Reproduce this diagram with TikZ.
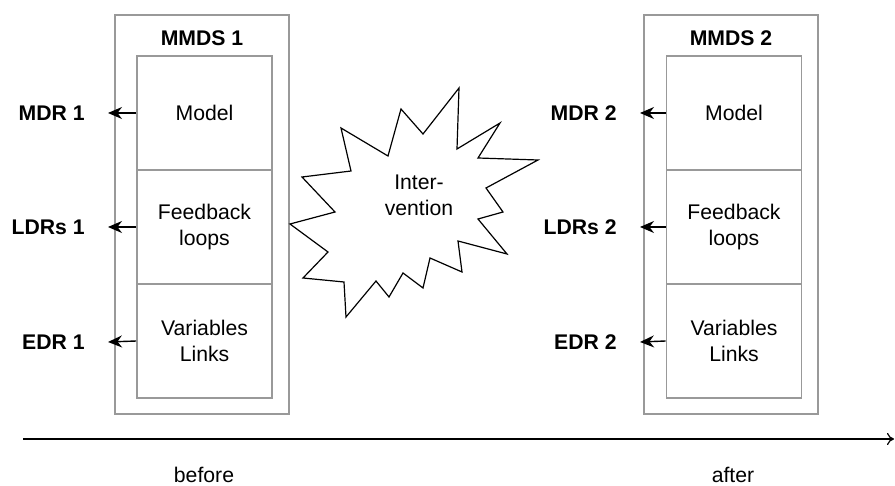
\documentclass[tikz,border=0pt]{standalone}
\usepackage{fontspec}
\setmainfont{Liberation Sans}
\usetikzlibrary{arrows.meta}
\newcommand{\diafont}{\fontsize{10.6}{13}\selectfont}

\begin{document}
\begin{tikzpicture}[x=0.5pt, y=-0.5pt,
    font=\diafont,
    frame/.style={draw=gray!80, line width=0.8pt, minimum width=87pt, minimum height=199.5pt, inner sep=0pt},
    part/.style={draw=gray!80, line width=0.8pt, minimum width=67.5pt, minimum height=57pt, inner sep=0pt, align=center},
    lbl/.style={font=\diafont\bfseries, anchor=east, inner xsep=11.5pt, inner ysep=0pt},
    feed/.style={-{Stealth[length=7pt,width=6pt]}, line width=0.7pt}]
    \useasboundingbox (0,0) rectangle (895,486);

    % 1. Zustand vorher
    \node[frame] (mmdsbox1) at (202,214.5) {};
    \node[font=\diafont\bfseries] (mmds1) at (202,38) {MMDS 1};
    \node[part] (model1) at (204.5,113) {Model};
    \node[part] (loops1) at (204.5,227) {Feedback\\loops};
    \node[part] (vars1) at (204.5,341) {Variables\\Links};
    \node[lbl] (mdr1) at (108,113) {MDR 1};
    \node[lbl] (ldr1) at (108,227) {LDRs 1};
    \node[lbl] (edr1) at (108,342) {EDR 1};
    \draw[feed] (model1.west) -- (mdr1.east);
    \draw[feed] (loops1.west) -- (ldr1.east);
    \draw[feed] (vars1.west) -- (edr1.east);

    % 2. Zustand nachher
    \node[frame] (mmdsbox2) at (731,214.5) {};
    \node[font=\diafont\bfseries] (mmds2) at (731,38) {MMDS 2};
    \node[part] (model2) at (734,113) {Model};
    \node[part] (loops2) at (734,227) {Feedback\\loops};
    \node[part] (vars2) at (734,341) {Variables\\Links};
    \node[lbl] (mdr2) at (640,113) {MDR 2};
    \node[lbl] (ldr2) at (640,227) {LDRs 2};
    \node[lbl] (edr2) at (640,342) {EDR 2};
    \draw[feed] (model2.west) -- (mdr2.east);
    \draw[feed] (loops2.west) -- (ldr2.east);
    \draw[feed] (vars2.west) -- (edr2.east);

    % 3. Intervention (Stern)
    \draw[line width=0.6pt] (459,88) -- (457,149) -- (500,123) -- (478,158) -- (538,160)
        -- (486,188) -- (503,212) -- (478,219) -- (507,254) -- (458,241) -- (462,272)
        -- (430,258) -- (423,288) -- (403,273) -- (389,297) -- (376,281) -- (346,317)
        -- (344,282) -- (303,278) -- (328,252) -- (290,224) -- (335,212) -- (302,177)
        -- (351,171) -- (341,128) -- (388,156) -- (401,109) -- (423,134) -- cycle;
    \node[align=center] (interv) at (419,195) {Inter-\\vention};

    % 4. Zeitachse
    \coordinate (tstart) at (23,439);
    \coordinate (tend) at (894,439);
    \draw[-{To[length=3.5pt,width=6pt]}, line width=0.6pt] (tstart) -- (tend);
    \node (before) at (204,475) {before};
    \node (after) at (733,475) {after};

\end{tikzpicture}
\end{document}
